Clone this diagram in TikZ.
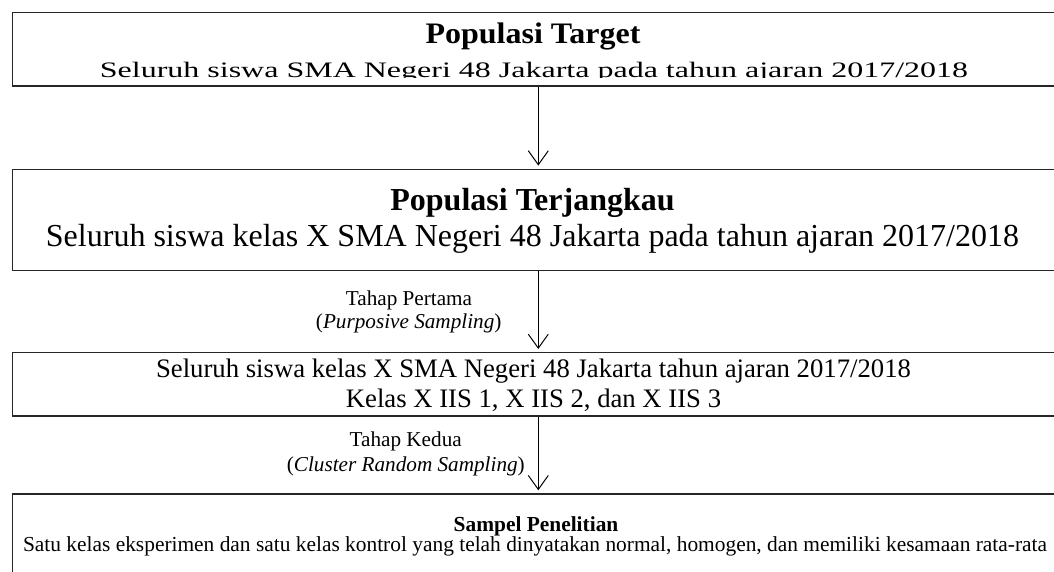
\documentclass[tikz,border=0pt]{standalone}
\usepackage{fontspec}
\setmainfont{Liberation Serif}
\usetikzlibrary{
    arrows.meta,
    calc,
    positioning
}
\tikzset{kotak/.style={rectangle, draw=black!85, line width=1.4pt, inner sep=0pt, minimum width=1052pt}}
\tikzset{teks/.style={anchor=base, inner sep=0pt}}
\tikzset{panah/.style={-{Straight Barb[length=14pt, width=20pt]}, line width=1pt, shorten >=3pt}}

\begin{document}
\begin{tikzpicture}[x=1pt, y=-1pt]
    \useasboundingbox (0, 0) rectangle (1054, 572);
    \clip (0, 0) rectangle (1054, 572);

    \node[kotak, minimum height=73.3pt] (target) at (538.3, 49.35) {};
    \node[kotak, minimum height=101.4pt] (terjangkau) at (538.3, 220) {};
    \node[kotak, minimum height=63.3pt] (tahap) at (538.3, 384.35) {};
    \node[kotak, minimum height=126pt] (sampel) at (538.3, 557) {};

    \node[teks] (judultarget) at (533, 43.3) {\fontsize{32}{38}\selectfont\bfseries\scalebox{1}[0.93]{Populasi Target}};
    \begin{scope}
        \clip (0, 0) rectangle (1054, 78);
        \node[teks] (isitarget) at (534, 77.3) {\fontsize{32}{38}\selectfont\scalebox{1}[0.69]{Seluruh siswa SMA Negeri 48 Jakarta pada tahun ajaran 2017/2018}};
    \end{scope}

    \node[teks] (judulterjangkau) at (532.5, 210.7) {\fontsize{32}{38}\selectfont\bfseries Populasi Terjangkau};
    \node[teks] (isiterjangkau) at (532.5, 246.7) {\fontsize{32}{38}\selectfont Seluruh siswa kelas X SMA Negeri 48 Jakarta pada tahun ajaran 2017/2018};

    \node[teks] (isitahapa) at (533.5, 377.3) {\fontsize{26.7}{32}\selectfont Seluruh siswa kelas X SMA Negeri 48 Jakarta tahun ajaran 2017/2018};
    \node[teks] (isitahapb) at (533.5, 407.3) {\fontsize{26.7}{32}\selectfont Kelas X IIS 1, X IIS 2, dan X IIS 3};

    \node[teks] (judulsampel) at (536, 531) {\fontsize{21.4}{25}\selectfont\bfseries Sampel Penelitian};
    \node[teks] (isisampel) at (535, 551) {\fontsize{21.4}{25}\selectfont Satu kelas eksperimen dan satu kelas kontrol yang telah dinyatakan normal, homogen, dan memiliki kesamaan rata-rata};

    \node[teks] (pertama) at (409, 305) {\fontsize{21.2}{25}\selectfont Tahap Pertama};
    \node[teks] (purposive) at (408.7, 328.3) {\fontsize{21.2}{25}\selectfont(\textit{Purposive Sampling})};
    \node[teks] (kedua) at (405.7, 446.7) {\fontsize{21.2}{25}\selectfont Tahap Kedua};
    \node[teks] (cluster) at (405.8, 471.7) {\fontsize{21.2}{25}\selectfont(\textit{Cluster Random Sampling})};

    \draw
    (target.south) edge[panah] (terjangkau.north)
    (terjangkau.south) edge[panah] (tahap.north)
    (tahap.south) edge[panah] (sampel.north);
\end{tikzpicture}
\end{document}
